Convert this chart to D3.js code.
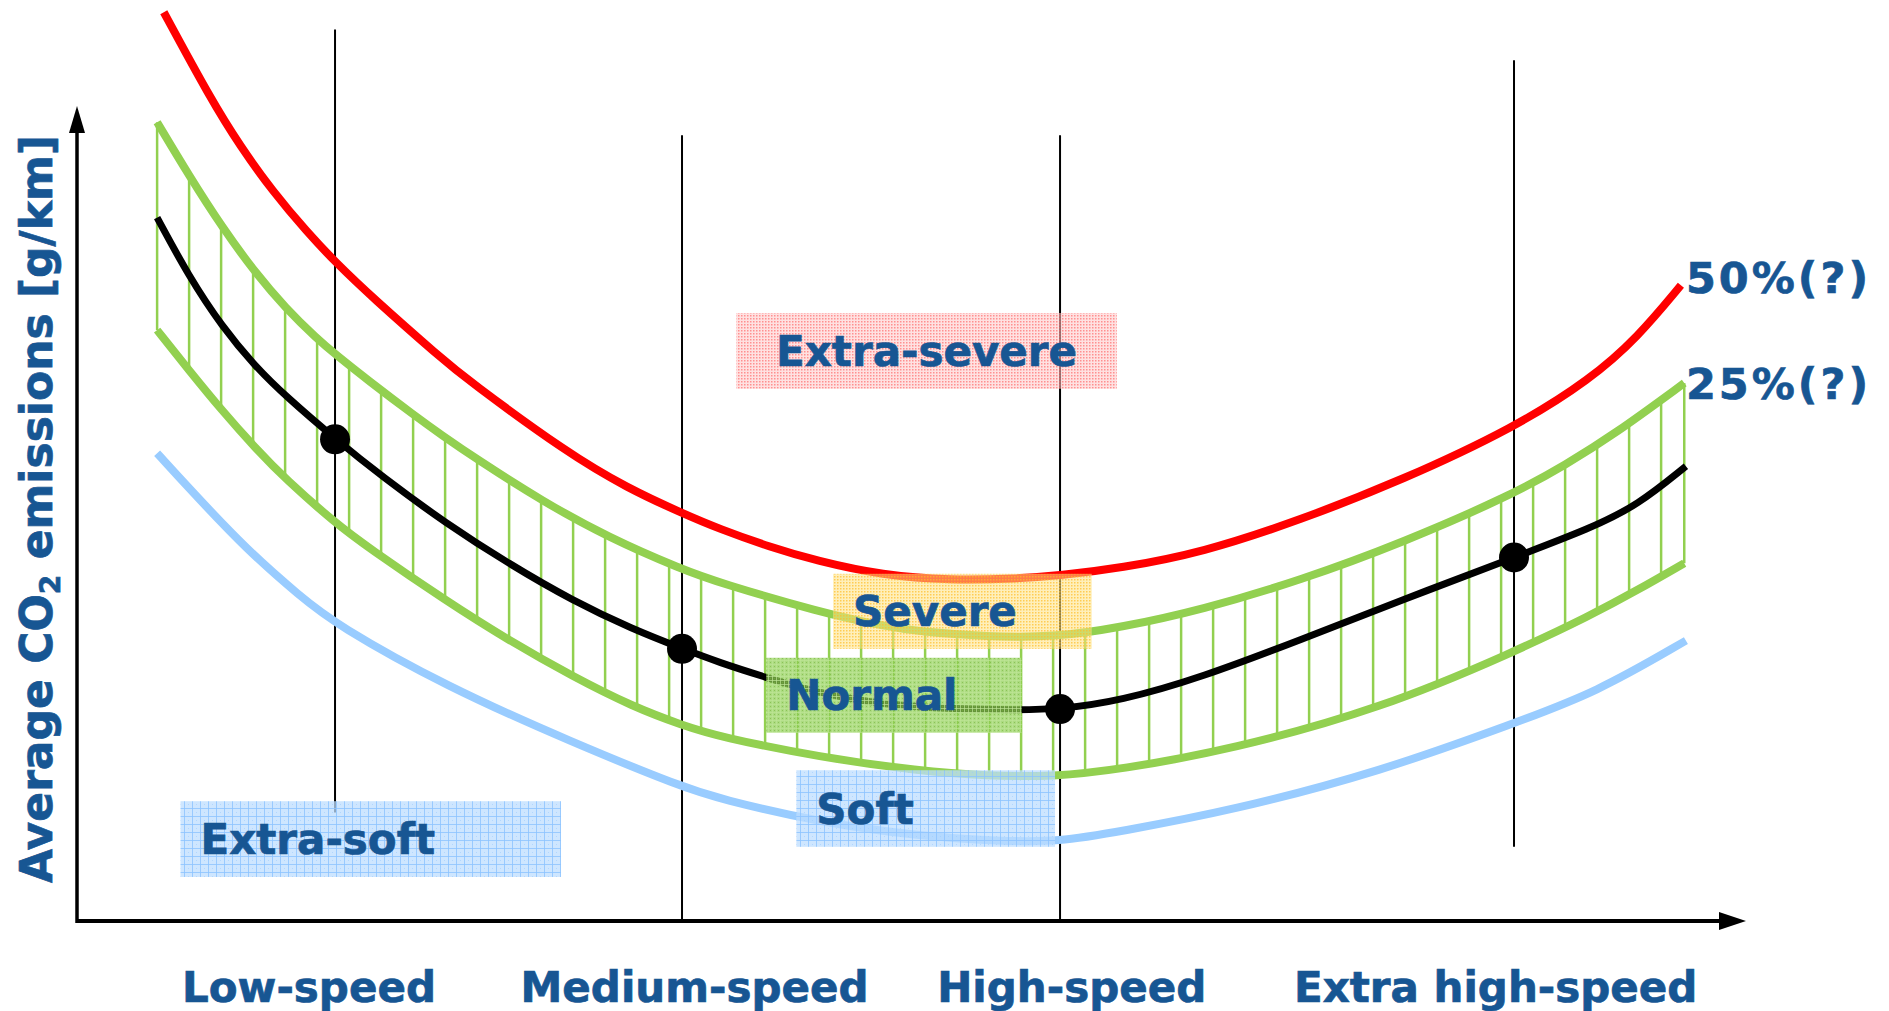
<!DOCTYPE html>
<html>
<head>
<meta charset="utf-8">
<script src="https://cdn.jsdelivr.net/npm/d3@7"></script>
<style>
  body { margin: 0; background: #fff; }
  svg text { font-family: "DejaVu Sans", Verdana, sans-serif; font-weight: bold; fill: #175693; stroke: #175693; stroke-width: 0.7px; }
</style>
</head>
<body>
<div id="chart"></div>
<script>
// schematic chart: x = relative vehicle speed (0-100), y = relative CO2 emissions (0-100)

// driving phases
const phases = ['Low-speed', 'Medium-speed', 'High-speed', 'Extra high-speed'];
const phaseX = [15.46, 36.25, 58.9, 86.1];
const phaseTop = [109.4, 96.4, 96.4, 105.6];
const phaseBottom = [13.3, 0, 0, 9.1];
const phaseLabelX = [13.9, 37.0, 59.6, 85.0];
// average (normal) emissions at each phase
const phaseValue = [59.1, 33.4, 26.0, 44.6];

// curves [speed, co2]
const extraSevere = [[5.2,111.5],[8.0,100.9],[9.8,95.0],[11.7,89.6],[13.8,84.5],[15.5,80.8],[17.7,76.5],[21.8,69.1],[23.4,66.4],[29.4,57.4],[33.0,53.1],[36.3,50.0],[38.5,48.1],[41.5,45.9],[44.3,44.2],[48.3,42.4],[52.3,41.8],[56.3,42.0],[58.9,42.4],[62.5,43.3],[67.4,45.2],[73.3,49.2],[79.4,54.1],[86.1,60.5],[90.7,66.5],[93.5,71.6],[96.1,78.0]];
const bandUpper = [[4.8,98.0],[6.7,91.5],[8.7,85.1],[10.7,79.5],[12.5,75.2],[14.4,71.4],[15.5,69.5],[17.4,66.4],[20.3,61.9],[21.8,59.7],[24.0,56.6],[27.9,51.5],[31.8,47.1],[36.3,43.1],[38.5,41.5],[44.5,37.9],[48.3,36.2],[50.5,35.5],[54.5,34.9],[58.5,34.8],[62.5,36.0],[67.4,38.2],[73.3,41.8],[79.4,46.4],[86.1,52.4],[89.2,56.0],[92.1,59.7],[96.3,66.0]];
const normal = [[4.8,86.3],[6.7,79.1],[8.7,72.9],[10.7,68.0],[12.5,64.4],[15.5,59.1],[18.3,54.5],[22.1,48.8],[25.9,43.8],[29.7,39.3],[33.3,35.8],[36.3,33.4],[38.5,31.7],[41.1,30.0],[44.5,27.9],[48.5,26.5],[52.5,26.0],[56.5,25.9],[58.9,26.0],[62.5,27.0],[67.4,29.9],[73.3,34.5],[79.4,39.4],[86.1,44.6],[90.7,48.2],[93.5,51.0],[96.4,55.8]];
const bandLower = [[4.8,72.5],[6.7,67.6],[8.7,62.6],[10.7,58.0],[12.5,54.2],[15.5,48.8],[17.4,45.9],[22.1,39.3],[25.9,34.4],[29.7,30.0],[33.3,26.3],[36.3,24.0],[38.5,22.6],[44.5,20.1],[50.5,18.4],[54.5,17.8],[58.5,17.7],[62.5,18.6],[69.1,21.0],[78.2,26.1],[86.1,33.0],[90.7,37.5],[93.5,40.6],[96.3,43.9]];
const soft = [[4.8,57.4],[6.8,52.9],[10.2,45.5],[13.4,39.8],[15.5,36.4],[22.1,28.8],[29.7,21.9],[36.3,16.4],[38.5,15.0],[44.5,12.1],[50.5,10.4],[55.3,9.8],[58.8,9.7],[62.5,11.0],[69.1,13.5],[78.2,18.4],[86.0,24.2],[91.0,28.0],[96.4,34.4]];

// driving style boxes
const styles = ['Extra-severe', 'Severe', 'Normal', 'Soft', 'Extra-soft'];
const styleX0 = [39.5, 45.3, 41.3, 43.1, 6.2];
const styleX1 = [62.3, 60.8, 56.6, 58.6, 29.0];
const styleY0 = [65.3, 33.4, 23.1, 9.1, 5.4];
const styleY1 = [74.6, 42.6, 32.3, 18.5, 14.7];

// end labels
const endLabels = ['50%(?)', '25%(?)'];
const endLabelX = [96.4, 96.4];
const endLabelY = [77.1, 64.0];

const W = 1889, H = 1011;
const x = d3.scaleLinear().domain([0, 100]).range([77, 1746]);
const y = d3.scaleLinear().domain([0, 100]).range([921, 106]);

const svg = d3.select('#chart').append('svg')
    .attr('width', W)
    .attr('height', H)
    .style('background', '#fff');

const defs = svg.append('defs');

function dotPattern(id, bg, dot, step, size) {
  const p = defs.append('pattern').attr('id', id)
      .attr('width', step).attr('height', step)
      .attr('patternUnits', 'userSpaceOnUse');
  p.append('rect').attr('width', step).attr('height', step).attr('fill', bg);
  p.append('rect').attr('width', size).attr('height', size).attr('fill', dot);
}
function gridPattern(id, bg, dot, lineCol, step) {
  const p = defs.append('pattern').attr('id', id)
      .attr('width', step).attr('height', step)
      .attr('patternUnits', 'userSpaceOnUse');
  p.append('rect').attr('width', step).attr('height', step).attr('fill', bg);
  p.append('path').attr('d', `M0,0.5H${step}M0.5,0V${step}`)
      .attr('stroke', lineCol).attr('stroke-width', 1);
  p.append('rect').attr('x', step / 2).attr('y', step / 2).attr('width', 1).attr('height', 1).attr('fill', dot);
}
dotPattern('p0', 'rgba(255,200,200,0.55)', 'rgba(255,90,90,0.6)', 3, 1.5);
dotPattern('p1', 'rgba(255,225,130,0.55)', 'rgba(255,190,40,0.7)', 3, 1.5);
gridPattern('p2', 'rgba(140,205,80,0.72)', 'rgba(120,180,60,0.6)', 'rgba(190,230,150,0.7)', 4);
gridPattern('p3', 'rgba(190,222,255,0.75)', 'rgba(150,200,255,0.5)', 'rgba(140,195,255,0.8)', 8);
gridPattern('p4', 'rgba(190,222,255,0.75)', 'rgba(150,200,255,0.5)', 'rgba(140,195,255,0.8)', 8);

// phase lines
svg.append('g').selectAll('line')
  .data(phaseX)
  .join('line')
    .attr('x1', d => x(d)).attr('x2', d => x(d))
    .attr('y1', (d, i) => y(phaseTop[i]))
    .attr('y2', (d, i) => y(phaseBottom[i]))
    .attr('stroke', '#000')
    .attr('stroke-width', 2);

const line = d3.line()
    .x(d => x(d[0]))
    .y(d => y(d[1]))
    .curve(d3.curveBasis);

const hatchG = svg.append('g');

function curve(data, color, width) {
  return svg.append('path')
      .datum(data)
      .attr('d', line)
      .attr('fill', 'none')
      .attr('stroke', color)
      .attr('stroke-width', width)
      .attr('stroke-linecap', 'butt');
}

curve(soft, '#99ccff', 8);
const upperPath = curve(bandUpper, '#92d050', 8);
const lowerPath = curve(bandLower, '#92d050', 8);

// hatching between band edges
function yAt(node, px) {
  let lo = 0, hi = node.getTotalLength();
  for (let k = 0; k < 40; k++) {
    const mid = (lo + hi) / 2;
    if (node.getPointAtLength(mid).x < px) lo = mid; else hi = mid;
  }
  return node.getPointAtLength((lo + hi) / 2).y;
}
const hx0 = x(bandUpper[0][0]);
const hx1 = x(bandUpper[bandUpper.length - 1][0]);
const hatchX = d3.range(hx0, hx1 - 6, 32).concat([hx1]);
hatchG.selectAll('line')
  .data(hatchX)
  .join('line')
    .attr('x1', d => d).attr('x2', d => d)
    .attr('y1', d => yAt(upperPath.node(), d))
    .attr('y2', d => yAt(lowerPath.node(), d))
    .attr('stroke', '#92d050')
    .attr('stroke-width', 2.5);

curve(normal, '#000', 7);
curve(extraSevere, '#ff0000', 8);

// phase points
svg.append('g').selectAll('circle')
  .data(phaseX)
  .join('circle')
    .attr('cx', d => x(d))
    .attr('cy', (d, i) => y(phaseValue[i]))
    .attr('r', 15)
    .attr('fill', '#000');

// axes with arrows
const ax = svg.append('g').attr('stroke', '#000').attr('fill', '#000');
ax.append('line')
    .attr('x1', x(0)).attr('x2', x(100) - 20)
    .attr('y1', y(0)).attr('y2', y(0))
    .attr('stroke-width', 4);
ax.append('line')
    .attr('x1', x(0)).attr('x2', x(0))
    .attr('y1', y(0) + 2).attr('y2', y(100) + 20)
    .attr('stroke-width', 3.5);
ax.append('path')
    .attr('stroke', 'none')
    .attr('d', `M${x(100)},${y(0)}L${x(100) - 27},${y(0) - 9}L${x(100) - 27},${y(0) + 9}Z`);
ax.append('path')
    .attr('stroke', 'none')
    .attr('d', `M${x(0)},${y(100)}L${x(0) - 8},${y(100) + 27}L${x(0) + 8},${y(100) + 27}Z`);

// style boxes
const boxG = svg.append('g');
styles.forEach((s, i) => {
  const bx = x(styleX0[i]), bw = x(styleX1[i]) - bx;
  const by = y(styleY1[i]), bh = y(styleY0[i]) - by;
  boxG.append('rect')
      .attr('x', bx).attr('y', by)
      .attr('width', bw).attr('height', bh)
      .attr('fill', `url(#p${i})`);
  boxG.append('text')
      .attr('x', i === 0 ? bx + bw / 2 : bx + 20)
      .attr('y', by + bh / 2 + 15)
      .attr('text-anchor', i === 0 ? 'middle' : 'start')
      .style('font-size', '42px')
      .text(s);
});

// end labels
svg.append('g').selectAll('text')
  .data(endLabels)
  .join('text')
    .attr('x', (d, i) => x(endLabelX[i]))
    .attr('y', (d, i) => y(endLabelY[i]))
    .style('font-size', '43px')
    .style('letter-spacing', '3px')
    .text(d => d);

// phase labels
svg.append('g').selectAll('text')
  .data(phases)
  .join('text')
    .attr('x', (d, i) => x(phaseLabelX[i]))
    .attr('y', 1002)
    .attr('text-anchor', 'middle')
    .style('font-size', '42px')
    .text(d => d);

// y axis title
const yt = svg.append('text')
    .attr('transform', 'translate(52,509) rotate(-90)')
    .attr('text-anchor', 'middle')
    .style('font-size', '44px');
yt.append('tspan').text('Average CO');
yt.append('tspan').attr('dy', 8).style('font-size', '28px').text('2');
yt.append('tspan').attr('dy', -8).text(' emissions [g/km]');
</script>
</body>
</html>
